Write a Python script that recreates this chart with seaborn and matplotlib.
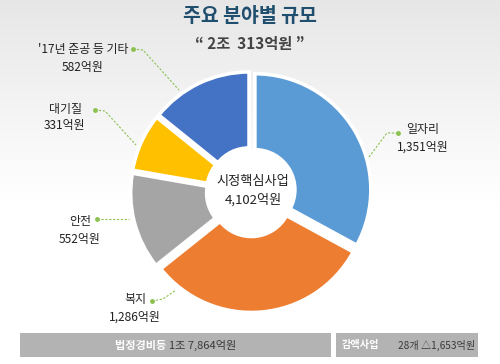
import numpy as np
import matplotlib
matplotlib.use("Agg")
import matplotlib.pyplot as plt
import seaborn as sns
from matplotlib.patches import Circle, Rectangle

sns.set_theme(style="white")
plt.rcParams['font.family'] = ['Noto Sans CJK KR', 'DejaVu Sans']

# ---- data ----
categories = ["일자리", "복지", "안전", "대기질", "'17년 준공 등 기타"]
values = [1351, 1286, 552, 331, 582]
value_labels = ["1,351억원", "1,286억원", "552억원", "331억원", "582억원"]
colors = ["#5b9bd5", "#ed7d31", "#a5a5a5", "#ffc000", "#4472c4"]
title = "주요 분야별 규모"
subtitle = "“ 2조  313억원 ”"
center_lines = ["시정핵심사업", "4,102억원"]
bottom_left = ["법정경비등", "1조 7,864억원"]
bottom_right = ["감액사업", "28개 △1,653억원"]

W, H = 500, 364
fig = plt.figure(figsize=(W / 100, H / 100), dpi=100)
ax = fig.add_axes([0, 0, 1, 1])

def Y(y):
    return H - y

# background gradient
grad = np.linspace(0, 1, 256)
grad = np.clip(grad / 0.55, 0, 1)
top = np.array([0.905, 0.905, 0.905])
bot = np.array([1.0, 1.0, 1.0])
img = top[None, None, :] * (1 - grad[:, None, None]) + bot[None, None, :] * grad[:, None, None]
img = np.repeat(img, 2, axis=1)
ax.imshow(img, extent=(0, W, 0, H), aspect='auto', zorder=0, origin='upper')

# pie
cx, cy, R = 251, Y(192), 116
wedges, _ = ax.pie(values, colors=colors, startangle=90, counterclock=False,
                   radius=R, center=(cx, cy), explode=[4.5] * len(values),
                   wedgeprops=dict(width=76, edgecolor='white', linewidth=2.6))
for w in wedges:
    w.set_zorder(2)
ax.add_patch(Circle((cx, cy), 43, facecolor='white', edgecolor='none', zorder=3))
ax.text(cx + 2, Y(181), center_lines[0], ha='center', va='center', fontsize=9.5,
        color='#222222', zorder=4)
ax.text(cx + 2, Y(200), center_lines[1], ha='center', va='center', fontsize=9.5,
        color='#222222', zorder=4)

ax.set_xlim(0, W)
ax.set_ylim(0, H)
ax.set_aspect('auto')
ax.axis('off')

# titles
ax.text(250, Y(17), title, ha='center', va='center', fontsize=14, fontweight='bold',
        color='#1f4e6e', zorder=5)
ax.text(250, Y(44), subtitle, ha='center', va='center', fontsize=11, fontweight='bold',
        color='#444444', zorder=5)

# labels with leader lines
green = '#8cc152'
label_pos = {
    0: ((423, 130), [(398, 133), (387, 133), (369, 157)]),
    1: ((135, 300), [(152, 301), (163, 299), (176, 290)]),
    2: ((80, 222), [(97, 219), (129, 219)]),
    3: ((65, 109), [(95, 110), (105, 111), (136, 145)]),
    4: ((83, 50), [(133, 49), (143, 50), (179, 90)]),
}
for i, ((tx, ty), pts) in label_pos.items():
    ax.text(tx, Y(ty), categories[i], ha='center', va='center', fontsize=8.6,
            color='#222222', zorder=5)
    ax.text(tx, Y(ty + 17), value_labels[i], ha='center', va='center', fontsize=8.6,
            color='#222222', zorder=5)
    xs = [p[0] for p in pts]
    ys = [Y(p[1]) for p in pts]
    ax.plot(xs, ys, ls=(0, (2, 1.5)), color=green, lw=0.8, zorder=1)
    ax.plot(xs[0], ys[0], 'o', color=green, ms=2.5, zorder=1)

# bottom boxes
box_col = '#b3b3b3'
ax.add_patch(Rectangle((20, Y(357)), 311, 24, facecolor=box_col, edgecolor='none', zorder=1))
ax.add_patch(Rectangle((336, Y(357)), 142, 24, facecolor=box_col, edgecolor='none', zorder=1))
ax.text(169, Y(345), bottom_left[0] + " ", ha='right', va='center', fontsize=8,
        color='white', fontweight='bold', zorder=5)
ax.text(169, Y(345), bottom_left[1], ha='left', va='center', fontsize=8,
        color='#3a3a3a', zorder=5)
ax.text(342, Y(345), bottom_right[0], ha='left', va='center', fontsize=7.3,
        color='white', fontweight='bold', zorder=5)
ax.text(475, Y(345), bottom_right[1], ha='right', va='center', fontsize=7.3,
        color='#3a3a3a', zorder=5)

fig.savefig("out.png", dpi=100)
